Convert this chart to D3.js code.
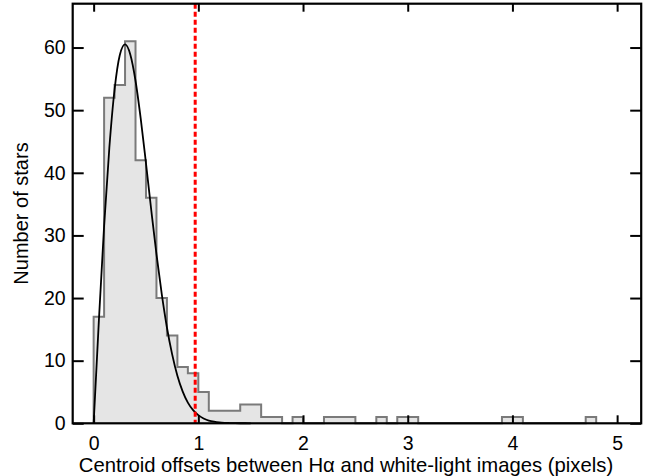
<!DOCTYPE html>
<html>
<head>
<meta charset="utf-8">
<script src="https://cdn.jsdelivr.net/npm/d3@7/dist/d3.min.js"></script>
<style>
  html, body { margin: 0; padding: 0; background: #ffffff; }
  svg { display: block; }
  text { font-family: "Liberation Sans", Arial, Helvetica, sans-serif; fill: #000; }
</style>
</head>
<body>
<svg id="chart" width="662" height="476"></svg>
<script>
// ---- data ----
const binStarts = [0.0,0.1,0.2,0.3,0.4,0.5,0.6,0.7,0.8,0.9,1.0,1.1,1.2,1.3,1.4,1.5,1.6,1.7,1.8,1.9,2.0,2.1,2.2,2.3,2.4,2.5,2.6,2.7,2.8,2.9,3.0,3.1,3.2,3.3,3.4,3.5,3.6,3.7,3.8,3.9,4.0,4.1,4.2,4.3,4.4,4.5,4.6,4.7];
const binCounts = [17,52,54,61,42,36,20,14,9,8,5,2,2,2,3,3,1,1,0,1,0,0,1,1,1,0,0,1,0,1,1,0,0,0,0,0,0,0,0,1,1,0,0,0,0,0,0,1];
const binWidth = 0.1;

const fitX = [0,0.05,0.1,0.15,0.2,0.25,0.3,0.35,0.4,0.45,0.5,0.55,0.6,0.65,0.7,0.75,0.8,0.85,0.9,0.95,1.0,1.05,1.1,1.15,1.2,1.25,1.3,1.35,1.4,1.45,1.5];
const fitY = [0,16.4,31.5,44.0,53.3,58.8,60.5,58.9,54.7,48.6,41.5,34.1,27.0,20.7,15.3,11.0,7.6,5.1,3.3,2.1,1.3,0.76,0.44,0.25,0.13,0.07,0.04,0.02,0.01,0.005,0];

const cutoffX = 0.97;

const xTickValues = [0,1,2,3,4,5];
const xTickLabels = ["0","1","2","3","4","5"];
const yTickValues = [0,10,20,30,40,50,60];
const yTickLabels = ["0","10","20","30","40","50","60"];

const xTitle = "Centroid offsets between H\u03B1 and white-light images (pixels)";
const yTitle = "Number of stars";

// ---- layout ----
const L = 72.7, R = 641.2, T = 3.7, B = 423.3;
const svg = d3.select("#chart");
svg.append("rect").attr("width", 662).attr("height", 476).attr("fill", "#fff");

const x = d3.scaleLinear().domain([-0.2, 5.23]).range([L, R]);
const y = d3.scaleLinear().domain([0, 67]).range([B, T]);

// ---- histogram (step outline) ----
const pts = [];
binStarts.forEach((s, i) => {
  if (i === 0) pts.push([s, 0]);
  pts.push([s, binCounts[i]]);
  pts.push([s + binWidth, binCounts[i]]);
});
pts.push([binStarts[binStarts.length - 1] + binWidth, 0]);

const line = d3.line().x(d => x(d[0])).y(d => y(d[1]));
svg.append("path")
  .attr("d", line(pts) + "Z")
  .attr("fill", "#e5e5e5")
  .attr("stroke", "none");
svg.append("path")
  .attr("d", line(pts))
  .attr("fill", "none")
  .attr("stroke", "#7a7a7a")
  .attr("stroke-width", 2)
  .attr("stroke-linejoin", "miter");

// ---- fitted curve ----
const fitPts = fitX.map((v, i) => [v, fitY[i]]);
svg.append("path")
  .attr("d", d3.line().x(d => x(d[0])).y(d => y(d[1])).curve(d3.curveMonotoneX)(fitPts))
  .attr("fill", "none")
  .attr("stroke", "#000")
  .attr("stroke-width", 1.8);

// ---- red dashed line ----
svg.append("line")
  .attr("x1", x(cutoffX)).attr("x2", x(cutoffX))
  .attr("y1", y(67)).attr("y2", y(0))
  .attr("stroke", "#ff0000")
  .attr("stroke-width", 3)
  .attr("stroke-dasharray", "5,3");

// ---- axes (box with inward ticks) ----
const axisG = svg.append("g");
const xBottom = d3.axisBottom(x).tickValues(xTickValues).tickSize(-8).tickFormat((d, i) => xTickLabels[i]).tickPadding(13);
const xTop = d3.axisTop(x).tickValues(xTickValues).tickSize(-8).tickFormat("");
const yLeft = d3.axisLeft(y).tickValues(yTickValues).tickSize(-11).tickFormat((d, i) => yTickLabels[i]).tickPadding(7);
const yRight = d3.axisRight(y).tickValues(yTickValues).tickSize(-11).tickFormat("");

function styleAxis(g) {
  g.select(".domain").remove();
  g.selectAll(".tick line").attr("stroke", "#000").attr("stroke-width", 2);
  g.selectAll(".tick text").style("font-size", "19.5px").attr("fill", "#000")
    .style("font-family", "'Liberation Sans', Arial, Helvetica, sans-serif");
}
axisG.append("g").attr("transform", `translate(0,${B})`).call(xBottom).call(styleAxis);
axisG.append("g").attr("transform", `translate(0,${T})`).call(xTop).call(styleAxis);
axisG.append("g").attr("transform", `translate(${L},0)`).call(yLeft).call(styleAxis);
axisG.append("g").attr("transform", `translate(${R},0)`).call(yRight).call(styleAxis);

svg.append("rect")
  .attr("x", L).attr("y", T)
  .attr("width", R - L).attr("height", B - T)
  .attr("fill", "none")
  .attr("stroke", "#000")
  .attr("stroke-width", 2.2);

// ---- titles ----
svg.append("text")
  .attr("x", 346)
  .attr("y", 471.5)
  .attr("text-anchor", "middle")
  .style("font-size", "20.3px")
  .text(xTitle);

svg.append("text")
  .attr("transform", `translate(27.5,${(T + B) / 2}) rotate(-90)`)
  .attr("text-anchor", "middle")
  .style("font-size", "20px")
  .text(yTitle);
</script>
</body>
</html>
